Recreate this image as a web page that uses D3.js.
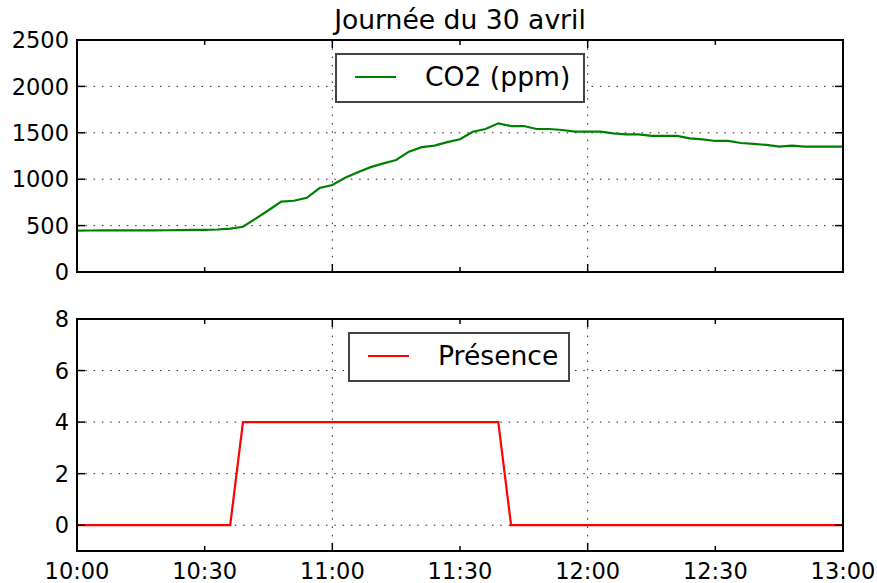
<!DOCTYPE html>
<html>
<head>
<meta charset="utf-8">
<script src="https://d3js.org/d3.v7.min.js"></script>
<style>
  body { margin: 0; background: #fff; }
  text { font-family: "DejaVu Sans", sans-serif; fill: #000; }
</style>
</head>
<body>
<svg id="chart" width="877" height="583"></svg>
<script>
// minutes after 10:00, one sample every 3 minutes
var minutes = d3.range(0, 181, 3);
var co2 = [445, 447, 448, 448, 448, 448, 449, 450, 452, 453,
  455, 458, 468, 488, 575, 665, 758, 768, 800, 905,
  937, 1016, 1075, 1130, 1170, 1207, 1297, 1345, 1362, 1400,
  1430, 1512, 1541, 1602, 1573, 1573, 1541, 1541, 1530, 1512,
  1512, 1512, 1494, 1483, 1483, 1466, 1466, 1466, 1440, 1430,
  1412, 1412, 1390, 1380, 1369, 1351, 1361, 1351, 1351, 1351, 1351];
var presence = minutes.map(function (m) { return (m >= 39 && m <= 99) ? 4 : 0; });
var xTickLabels = ["10:00", "10:30", "11:00", "11:30", "12:00", "12:30", "13:00"];
var co2Ticks = [0, 500, 1000, 1500, 2000, 2500];
var presTicks = [0, 2, 4, 6, 8];

var svg = d3.select("#chart");
var left = 77, right = 843;
var top1 = 40, bot1 = 272, top2 = 319, bot2 = 551;

var x = d3.scaleLinear().domain([0, 180]).range([left, right]);
var y1 = d3.scaleLinear().domain([0, 2500]).range([bot1, top1]);
var y2 = d3.scaleLinear().domain([-1, 8]).range([bot2, top2]);

var xMajor = [0, 60, 120, 180];
var xAll = d3.range(0, 181, 30);

function panel(y, yTicks, top, bot, values, color, label, legend) {
  var g = svg.append("g");
  // grid
  g.selectAll(".hg").data(yTicks.filter(function (d) { return y(d) > top + 1 && y(d) < bot - 1; }))
    .enter().append("line")
    .attr("x1", left).attr("x2", right)
    .attr("y1", function (d) { return y(d); }).attr("y2", function (d) { return y(d); })
    .attr("stroke", "#222").attr("stroke-width", 1).attr("stroke-dasharray", "1.5,6.8");
  g.selectAll(".vg").data(xMajor.slice(1, 3)).enter().append("line")
    .attr("x1", function (d) { return x(d); }).attr("x2", function (d) { return x(d); })
    .attr("y1", top).attr("y2", bot)
    .attr("stroke", "#222").attr("stroke-width", 1).attr("stroke-dasharray", "1.5,6.8");

  // line
  var line = d3.line().x(function (d, i) { return x(minutes[i]); }).y(function (d) { return y(d); });
  g.append("path").datum(values).attr("d", line)
    .attr("fill", "none").attr("stroke", color).attr("stroke-width", 2.2);

  // ticks, inward on all four sides
  xAll.forEach(function (m) {
    var len = xMajor.indexOf(m) >= 0 ? 8 : 5;
    g.append("line").attr("x1", x(m)).attr("x2", x(m)).attr("y1", bot).attr("y2", bot - len)
      .attr("stroke", "#000").attr("stroke-width", 1.5);
    g.append("line").attr("x1", x(m)).attr("x2", x(m)).attr("y1", top).attr("y2", top + len)
      .attr("stroke", "#000").attr("stroke-width", 1.5);
  });
  yTicks.forEach(function (t) {
    g.append("line").attr("x1", left).attr("x2", left + 8).attr("y1", y(t)).attr("y2", y(t))
      .attr("stroke", "#000").attr("stroke-width", 1.5);
    g.append("line").attr("x1", right).attr("x2", right - 8).attr("y1", y(t)).attr("y2", y(t))
      .attr("stroke", "#000").attr("stroke-width", 1.5);
    g.append("text").attr("x", left - 8).attr("y", y(t)).attr("dy", "0.36em")
      .attr("text-anchor", "end").style("font-size", "22.5px").text(t);
  });

  g.append("rect").attr("x", left).attr("y", top).attr("width", right - left).attr("height", bot - top)
    .attr("fill", "none").attr("stroke", "#000").attr("stroke-width", 2);

  // legend
  var lg = g.append("g");
  lg.append("rect").attr("x", legend[0]).attr("y", legend[1]).attr("width", legend[2]).attr("height", 48)
    .attr("fill", "#fff").attr("stroke", "#444").attr("stroke-width", 2);
  lg.append("line").attr("x1", legend[0] + 19).attr("x2", legend[0] + 60)
    .attr("y1", legend[1] + 23).attr("y2", legend[1] + 23)
    .attr("stroke", color).attr("stroke-width", 2.2);
  lg.append("text").attr("x", legend[0] + 89).attr("y", legend[1] + 32)
    .style("font-size", "26.6px").text(label);
}

panel(y1, co2Ticks, top1, bot1, co2, "#008000", "CO2 (ppm)", [336, 54, 248]);
panel(y2, presTicks, top2, bot2, presence, "#ff0000", "Présence", [349, 333, 220]);

svg.append("g").selectAll("text").data(xAll).enter().append("text")
  .attr("x", function (d) { return x(d); }).attr("y", 578.5)
  .attr("text-anchor", "middle").style("font-size", "22.5px")
  .text(function (d, i) { return xTickLabels[i]; });

svg.append("text").attr("x", (left + right) / 2).attr("y", 29)
  .attr("text-anchor", "middle").style("font-size", "26.6px").text("Journée du 30 avril");
</script>
</body>
</html>
